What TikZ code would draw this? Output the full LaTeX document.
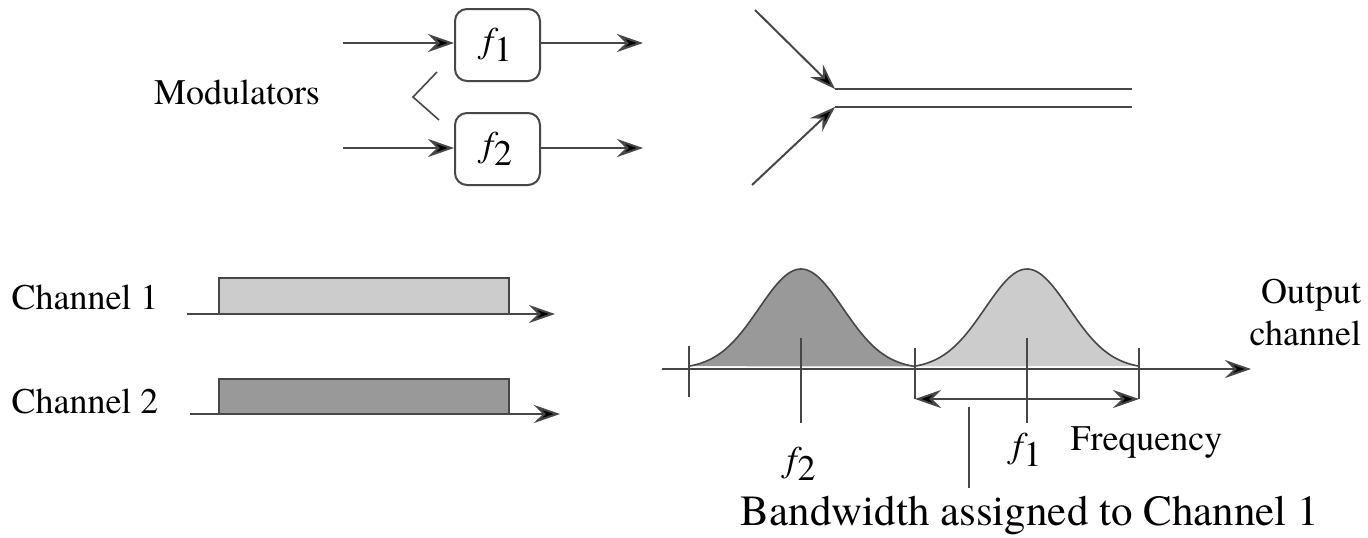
\documentclass[tikz,border=0pt]{standalone}
\usepackage{fontspec}
\setmainfont{TeX Gyre Termes}
\newfontfamily\serf{TeX Gyre Termes}
\usepackage{tikz}
\usetikzlibrary{positioning,arrows.meta,calc}

\definecolor{lineg}{gray}{0.28}
\definecolor{lightg}{gray}{0.8}
\definecolor{darkg}{gray}{0.6}
\newcommand{\fsub}[1]{{\serf\itshape f}\kern0.5pt\raisebox{-0.55ex}{#1}}

\begin{document}
\begin{tikzpicture}[x=0.5pt,y=-0.5pt,>={Stealth[length=13pt,width=9pt,inset=4.5pt,fill=black]},
    every node/.style={font=\serf\fontsize{18}{21}\selectfont},
    line width=1pt, draw=lineg]
  \useasboundingbox (0,0) rectangle (1368,537);

  % modulators
  \tikzset{modbox/.style={draw=lineg, rounded corners=6pt, minimum width=42.5pt, minimum height=36pt, inner sep=0pt}}
  \node (mod1) [modbox] at (497.5,45) {\fsub{1}};
  \node (mod2) [modbox] at (497.5,149) {\fsub{2}};
  \node (modlbl) at (237,92) {Modulators};
  \coordinate (in1) at (343,43);   \coordinate (out1) at (643,43);
  \coordinate (in2) at (343,148);  \coordinate (out2) at (643,148);
  \draw[->] (in1) -- (in1 -| mod1.west);
  \draw[->] (out1 -| mod1.east) -- (out1);
  \draw[->] (in2) -- (in2 -| mod2.west);
  \draw[->] (out2 -| mod2.east) -- (out2);
  \draw[line width=0.8pt] (437,72) -- (413,97) -- (439,120);

  % multiplexed line
  \coordinate (src1) at (755,10);  \coordinate (join1) at (835,89);  \coordinate (end1) at (1132,89);
  \coordinate (src2) at (752,185); \coordinate (join2) at (835,107); \coordinate (end2) at (1132,107);
  \draw[->] (src1) -- (join1);
  \draw[->] (src2) -- (join2);
  \draw (join1) -- (end1);
  \draw (join2) -- (end2);

  % channels
  \node (ch1) at (85,297) {Channel 1};
  \node (ch2) at (85,401) {Channel 2};
  \draw[fill=lightg] (219,314) rectangle (509,278);
  \draw[fill=darkg] (219,414) rectangle (509,379);
  \coordinate (ax1a) at (187,314); \coordinate (ax1b) at (555,314);
  \coordinate (ax2a) at (190,414); \coordinate (ax2b) at (560,414);
  \draw[->] (ax1a) -- (ax1b);
  \draw[->] (ax2a) -- (ax2b);

  % output spectrum
  \fill[darkg] plot[domain=689:915,samples=80,smooth] (\x,{369-100*exp(-((\x-801)/42)^2/2)}) -- cycle;
  \fill[lightg] plot[domain=914:1139,samples=80,smooth] (\x,{369-100*exp(-((\x-1027)/42)^2/2)}) -- cycle;
  \draw[line width=0.8pt] plot[domain=689:915,samples=80,smooth] (\x,{369-100*exp(-((\x-801)/42)^2/2)});
  \draw[line width=0.8pt] plot[domain=914:1139,samples=80,smooth] (\x,{369-100*exp(-((\x-1027)/42)^2/2)});
  \coordinate (fa) at (662,369); \coordinate (fb) at (1251,369);
  \draw[->] (fa) -- (fb);
  \draw (689,346) -- (689,397);
  \draw (915,348) -- (915,399);
  \draw (1139,348) -- (1139,399);
  \draw (801,338) -- (801,423);
  \draw (1027,338) -- (1027,423);
  \coordinate (bwl) at (915,399); \coordinate (bwr) at (1139,399);
  \draw[<->] (bwl) -- (bwr);
  \node (bwlbl) [font=\serf\fontsize{21.5}{25}\selectfont] at (1030,515) {Bandwidth assigned to Channel 1};
  \coordinate (bwptr) at (969,407);
  \draw (bwptr) -- (bwptr |- bwlbl.north);
  \node (f2lbl) at (801,464) {\fsub{2}};
  \node (f1lbl) at (1027,450) {\fsub{1}};
  \node (freq) [anchor=west] at (1063,442) {Frequency};
  \node (outlbl) [anchor=east, align=right, inner sep=0pt] at (1362,312) {Output\\channel};
\end{tikzpicture}
\end{document}
